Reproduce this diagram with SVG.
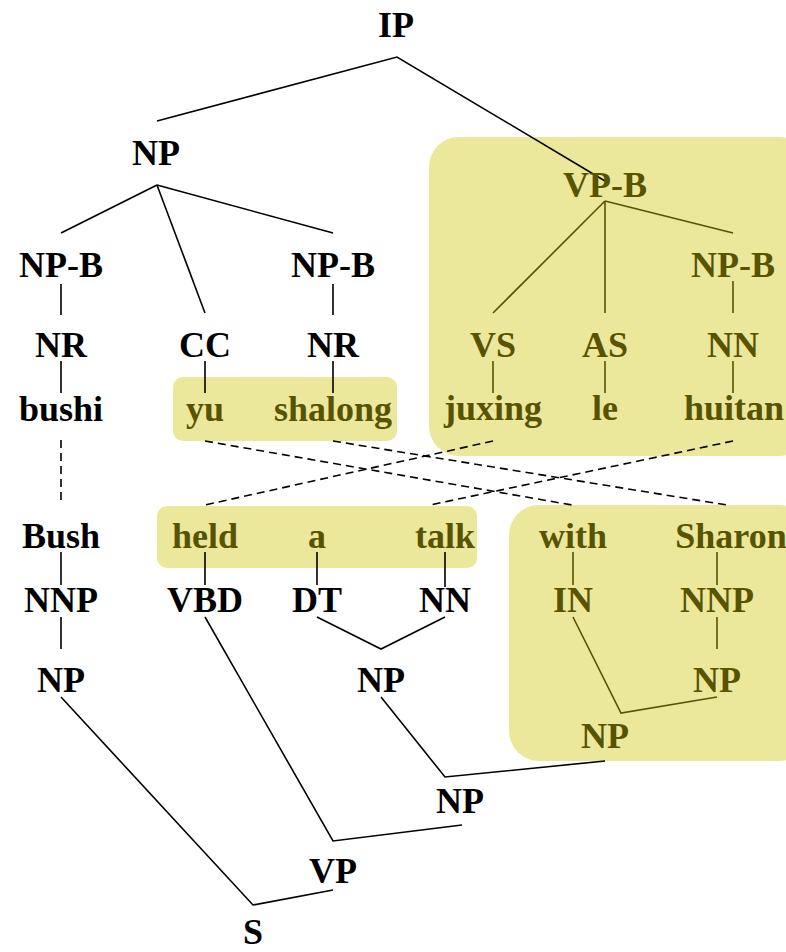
<svg xmlns="http://www.w3.org/2000/svg" width="786" height="952" viewBox="0 0 786 952">
  <style>
    text { font-family: "Liberation Serif", "Times New Roman", serif; font-weight: bold; font-size: 36px; text-anchor: middle; fill: #000; }
    .hl text { fill: #575300; }
    .box { fill: #ebe89b; stroke: none; }
    .edge { stroke: #000; stroke-width: 1.6; fill: none; }
    .edge.hl { stroke: #575300; }
    .align { stroke: #000; stroke-width: 1.6; fill: none; stroke-dasharray: 8 5; }
  </style>

  <!-- highlight regions -->
  <g id="highlights">
    <rect class="box" x="429" y="137" width="380" height="319" rx="30"/>
    <rect class="box" x="173" y="377" width="224" height="64" rx="10"/>
    <rect class="box" x="157" y="506" width="320" height="62" rx="10"/>
    <rect class="box" x="509" y="505" width="300" height="256" rx="30"/>
  </g>

  <!-- tree edges and word alignments -->
  <g id="connectors">
    <!-- upper tree -->
    <polyline class="edge" points="157,121 397,57 605,181"/>
    <line class="edge" x1="157" y1="185" x2="61" y2="233"/>
    <line class="edge" x1="157" y1="185" x2="205" y2="313"/>
    <line class="edge" x1="157" y1="185" x2="333" y2="233"/>
    <line class="edge" x1="61" y1="284" x2="61" y2="315"/>
    <line class="edge" x1="333" y1="284" x2="333" y2="315"/>
    <line class="edge" x1="61" y1="361" x2="61" y2="393"/>
    <line class="edge" x1="205" y1="361" x2="205" y2="393"/>
    <line class="edge" x1="333" y1="361" x2="333" y2="393"/>
    <line class="edge hl" x1="605" y1="201" x2="493" y2="313"/>
    <line class="edge hl" x1="605" y1="201" x2="605" y2="313"/>
    <line class="edge hl" x1="605" y1="201" x2="733" y2="233"/>
    <line class="edge hl" x1="733" y1="281" x2="733" y2="313"/>
    <line class="edge hl" x1="493" y1="361" x2="493" y2="393"/>
    <line class="edge hl" x1="605" y1="361" x2="605" y2="393"/>
    <line class="edge hl" x1="733" y1="361" x2="733" y2="393"/>

    <!-- alignments -->
    <line class="align" x1="61" y1="440" x2="61" y2="503"/>
    <line class="align" x1="205" y1="441" x2="572" y2="505"/>
    <line class="align" x1="333" y1="441" x2="727" y2="505"/>
    <line class="align" x1="493" y1="441" x2="205" y2="505"/>
    <line class="align" x1="733" y1="441" x2="430" y2="505"/>

    <!-- lower tree -->
    <line class="edge" x1="61" y1="552" x2="61" y2="585"/>
    <line class="edge" x1="205" y1="552" x2="205" y2="585"/>
    <line class="edge" x1="317" y1="552" x2="317" y2="585"/>
    <line class="edge" x1="445" y1="552" x2="445" y2="587"/>
    <line class="edge hl" x1="573" y1="552" x2="573" y2="585"/>
    <line class="edge hl" x1="717" y1="552" x2="717" y2="585"/>
    <line class="edge" x1="61" y1="617" x2="61" y2="649"/>
    <line class="edge hl" x1="717" y1="617" x2="717" y2="649"/>
    <polyline class="edge" points="317,617 381,649 445,617"/>
    <polyline class="edge hl" points="573,617 621,713 717,697"/>
    <polyline class="edge" points="381,697 445,777 605,761"/>
    <polyline class="edge" points="205,617 333,841 462,825"/>
    <polyline class="edge" points="61,697 253,905 333,890"/>
  </g>

  <!-- Chinese-side tree -->
  <g id="n-IP"><text x="396" y="37">IP</text></g>
  <g id="n-NP-top"><text x="156" y="165">NP</text></g>
  <g id="n-NPB-1"><text x="61" y="277">NP-B</text></g>
  <g id="n-NPB-2"><text x="333" y="277">NP-B</text></g>
  <g id="n-NR-1"><text x="61" y="357">NR</text></g>
  <g id="n-CC"><text x="205" y="357">CC</text></g>
  <g id="n-NR-2"><text x="333" y="357">NR</text></g>
  <g id="n-bushi"><text x="61" y="421">bushi</text></g>
  <g id="n-yu" class="hl"><text x="205" y="421">yu</text></g>
  <g id="n-shalong" class="hl"><text x="333" y="421">shalong</text></g>
  <g id="n-VPB" class="hl"><text x="605" y="197">VP-B</text></g>
  <g id="n-NPB-3" class="hl"><text x="733" y="277">NP-B</text></g>
  <g id="n-VS" class="hl"><text x="493" y="357">VS</text></g>
  <g id="n-AS" class="hl"><text x="605" y="357">AS</text></g>
  <g id="n-NN-1" class="hl"><text x="733" y="357">NN</text></g>
  <g id="n-juxing" class="hl"><text x="493" y="420">juxing</text></g>
  <g id="n-le" class="hl"><text x="605" y="420">le</text></g>
  <g id="n-huitan" class="hl"><text x="734" y="420">huitan</text></g>

  <!-- English-side tree -->
  <g id="n-Bush"><text x="61" y="548">Bush</text></g>
  <g id="n-held" class="hl"><text x="205" y="548">held</text></g>
  <g id="n-a" class="hl"><text x="317" y="548">a</text></g>
  <g id="n-talk" class="hl"><text x="445" y="548">talk</text></g>
  <g id="n-with" class="hl"><text x="573" y="548">with</text></g>
  <g id="n-Sharon" class="hl"><text x="731" y="548">Sharon</text></g>
  <g id="n-NNP-1"><text x="61" y="612">NNP</text></g>
  <g id="n-VBD"><text x="205" y="612">VBD</text></g>
  <g id="n-DT"><text x="317" y="612">DT</text></g>
  <g id="n-NN-2"><text x="445" y="612">NN</text></g>
  <g id="n-IN" class="hl"><text x="573" y="612">IN</text></g>
  <g id="n-NNP-2" class="hl"><text x="717" y="612">NNP</text></g>
  <g id="n-NP-bush"><text x="61" y="692">NP</text></g>
  <g id="n-NP-atalk"><text x="381" y="692">NP</text></g>
  <g id="n-NP-sharon" class="hl"><text x="717" y="692">NP</text></g>
  <g id="n-PP" class="hl"><text x="605" y="748">NP</text></g>
  <g id="n-NP-obj"><text x="460" y="813">NP</text></g>
  <g id="n-VP"><text x="333" y="883">VP</text></g>
  <g id="n-S"><text x="253" y="944">S</text></g>
</svg>
